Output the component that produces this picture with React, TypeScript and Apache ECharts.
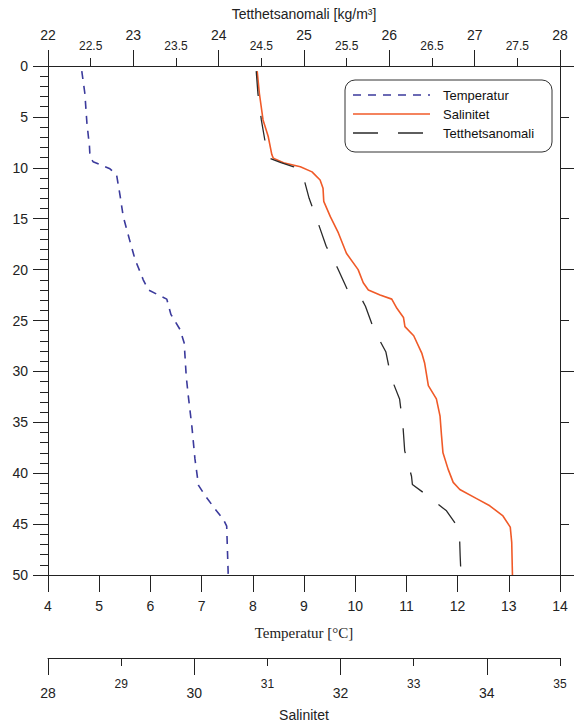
import { useEffect, useRef } from "react";
import * as echarts from "echarts";

// Depth profiles (depth in m)
const tempDepth = [0.5, 2.7, 5.6, 7.9, 8.9, 9.4, 10.1, 10.7, 12.8, 14.8, 17.2, 19.0, 21.0, 22.0, 22.9, 24.4, 25.9, 27.2, 30.5, 32.4, 35.4, 38.6, 41.2, 42.2, 43.5, 44.5, 45.2, 50];
const tempValues = [4.66, 4.72, 4.76, 4.81, 4.82, 4.88, 5.21, 5.34, 5.41, 5.47, 5.6, 5.7, 5.86, 5.96, 6.32, 6.4, 6.58, 6.66, 6.7, 6.74, 6.81, 6.87, 6.94, 7.07, 7.26, 7.42, 7.49, 7.52];

const salDepth = [0.5, 2.7, 5.3, 6.9, 8.7, 9.05, 9.5, 9.9, 10.4, 11.2, 12.0, 13.3, 14.8, 16.4, 18.4, 20.0, 21.3, 22.0, 22.5, 22.9, 23.8, 24.7, 25.6, 26.5, 28.2, 29.2, 31.4, 32.7, 34.4, 36.3, 38.0, 39.6, 40.9, 41.6, 42.5, 43.2, 44.2, 45.3, 46.8, 50];
const salValues = [30.86, 30.89, 30.94, 31.01, 31.06, 31.08, 31.22, 31.45, 31.61, 31.72, 31.76, 31.77, 31.86, 31.97, 32.08, 32.24, 32.31, 32.38, 32.54, 32.7, 32.77, 32.86, 32.88, 33.0, 33.11, 33.15, 33.2, 33.31, 33.36, 33.38, 33.4, 33.47, 33.54, 33.63, 33.86, 34.04, 34.22, 34.32, 34.34, 34.35];

const densDepth = [0.5, 2.7, 5.3, 7.7, 9.0, 9.5, 9.9, 10.5, 13.0, 15.3, 17.7, 19.8, 22.0, 22.8, 23.6, 25.9, 28.1, 30.6, 32.7, 35.4, 37.8, 40.3, 41.1, 42.1, 43.7, 45.5, 48.1, 50];
const densValues = [24.44, 24.46, 24.5, 24.55, 24.58, 24.73, 24.88, 24.98, 25.06, 25.16, 25.26, 25.39, 25.51, 25.67, 25.72, 25.82, 25.96, 26.02, 26.12, 26.16, 26.18, 26.26, 26.27, 26.43, 26.67, 26.82, 26.83, 26.84];

// tick labels
const densMajor = [22, 23, 24, 25, 26, 27, 28];
const densHalf = [22.5, 23.5, 24.5, 25.5, 26.5, 27.5];
const salEven = [28, 30, 32, 34];
const salOdd = [29, 31, 33, 35];

const seriesNames = ["Temperatur", "Salinitet", "Tetthetsanomali"];
const seriesColors = ["#3b3a9c", "#f05a28", "#2a2a2a"];
const seriesDash: (number[] | null)[] = [[8, 7], null, [25, 20]];
const seriesWidth = [1.6, 1.6, 1.3];

const SANS = "Liberation Sans";
const INK = "#222";

const pairs = (xs: number[], ys: number[]) => xs.map((x, i) => [x, ys[i]]);

const App = () => {
  const chartRef = useRef<HTMLDivElement>(null);

  useEffect(() => {
    document.body.style.margin = "0";
    if (!chartRef.current) return;
    const chart = echarts.init(chartRef.current, null, { renderer: "svg" });

    const line = { show: true, onZero: false, lineStyle: { color: INK, width: 1 } };
    const noLine = { show: false, onZero: false };
    const label = { color: INK, fontSize: 14, fontFamily: SANS };

    // legend drawn by hand so the samples are plain lines
    const legendItems: any[] = [
      {
        type: "rect",
        shape: { x: 345, y: 80, width: 207, height: 72, r: 10 },
        style: { fill: "none", stroke: "#333", lineWidth: 1 },
      },
    ];
    seriesNames.forEach((name, i) => {
      const y = 95 + i * 19;
      legendItems.push({
        type: "line",
        shape: { x1: 353, y1: y, x2: 430, y2: y },
        style: { stroke: seriesColors[i], lineWidth: seriesWidth[i], lineDash: seriesDash[i] || undefined },
      });
      legendItems.push({
        type: "text",
        x: 443,
        y,
        style: { text: name, fill: "#111", fontSize: 13, fontFamily: SANS, verticalAlign: "middle" },
      });
    });

    const option = {
      animation: false,
      backgroundColor: "#fff",
      grid: { left: 48, right: 14, top: 66, bottom: 151 },
      graphic: legendItems,
      xAxis: [
        {
          type: "value", position: "bottom", min: 4, max: 14, interval: 1,
          axisLine: line,
          axisTick: { show: true, inside: false, length: 17, lineStyle: { color: INK } },
          axisLabel: { ...label, margin: 24 },
          splitLine: { show: false },
          name: "Temperatur [°C]", nameLocation: "middle", nameGap: 50,
          nameTextStyle: { color: INK, fontSize: 15, fontFamily: "Liberation Serif" },
        },
        {
          type: "value", position: "top", min: 22, max: 28, interval: 1,
          axisLine: line,
          axisTick: { show: true, inside: false, length: 16, lineStyle: { color: INK } },
          axisLabel: { ...label, margin: 24, customValues: densMajor },
          splitLine: { show: false },
          name: "Tetthetsanomali [kg/m³]", nameLocation: "middle", nameGap: 45,
          nameTextStyle: { color: INK, fontSize: 14, fontFamily: SANS },
        },
        {
          type: "value", position: "top", min: 22, max: 28,
          axisLine: noLine,
          axisTick: { show: true, inside: false, length: 8, customValues: densHalf, lineStyle: { color: INK } },
          axisLabel: { ...label, fontSize: 12, margin: 14, customValues: densHalf },
          splitLine: { show: false },
        },
        {
          type: "value", position: "bottom", offset: 83, min: 28, max: 35, interval: 1,
          axisLine: line,
          axisTick: { show: true, inside: false, length: 8, customValues: salOdd, lineStyle: { color: INK } },
          axisLabel: { ...label, fontSize: 12, margin: 20, customValues: salOdd },
          splitLine: { show: false },
        },
        {
          type: "value", position: "bottom", offset: 83, min: 28, max: 35,
          axisLine: noLine,
          axisTick: { show: true, inside: false, length: 17, customValues: salEven, lineStyle: { color: INK } },
          axisLabel: { ...label, margin: 28, customValues: salEven },
          splitLine: { show: false },
          name: "Salinitet", nameLocation: "middle", nameGap: 50,
          nameTextStyle: { color: INK, fontSize: 14, fontFamily: SANS },
        },
      ],
      yAxis: [
        {
          type: "value", position: "left", inverse: true, min: 0, max: 50, interval: 5,
          axisLine: line,
          axisTick: { show: true, inside: false, length: 15, lineStyle: { color: INK } },
          minorTick: { show: true, splitNumber: 5, length: 8, lineStyle: { color: INK } },
          axisLabel: { ...label, margin: 20 },
          splitLine: { show: false },
        },
        {
          type: "value", position: "right", inverse: true, min: 0, max: 50, interval: 10,
          axisLine: line,
          axisTick: { show: true, inside: false, length: 14, lineStyle: { color: INK } },
          minorTick: { show: true, splitNumber: 2, length: 9, lineStyle: { color: INK } },
          axisLabel: { show: false },
          splitLine: { show: false },
        },
      ],
      series: [
        {
          name: seriesNames[0], type: "line", xAxisIndex: 0, yAxisIndex: 0, symbol: "none",
          data: pairs(tempValues, tempDepth),
          lineStyle: { color: seriesColors[0], width: seriesWidth[0], type: seriesDash[0] },
        },
        {
          name: seriesNames[1], type: "line", xAxisIndex: 3, yAxisIndex: 0, symbol: "none",
          data: pairs(salValues, salDepth),
          lineStyle: { color: seriesColors[1], width: seriesWidth[1] },
        },
        {
          name: seriesNames[2], type: "line", xAxisIndex: 1, yAxisIndex: 0, symbol: "none",
          data: pairs(densValues, densDepth),
          lineStyle: { color: seriesColors[2], width: seriesWidth[2], type: seriesDash[2] },
        },
      ],
    };

    chart.setOption(option);

    const handleResize = () => chart.resize();
    window.addEventListener("resize", handleResize);
    return () => {
      window.removeEventListener("resize", handleResize);
      chart.dispose();
    };
  }, []);

  return <div ref={chartRef} style={{ width: "574px", height: "727px" }} />;
};

export default App;
